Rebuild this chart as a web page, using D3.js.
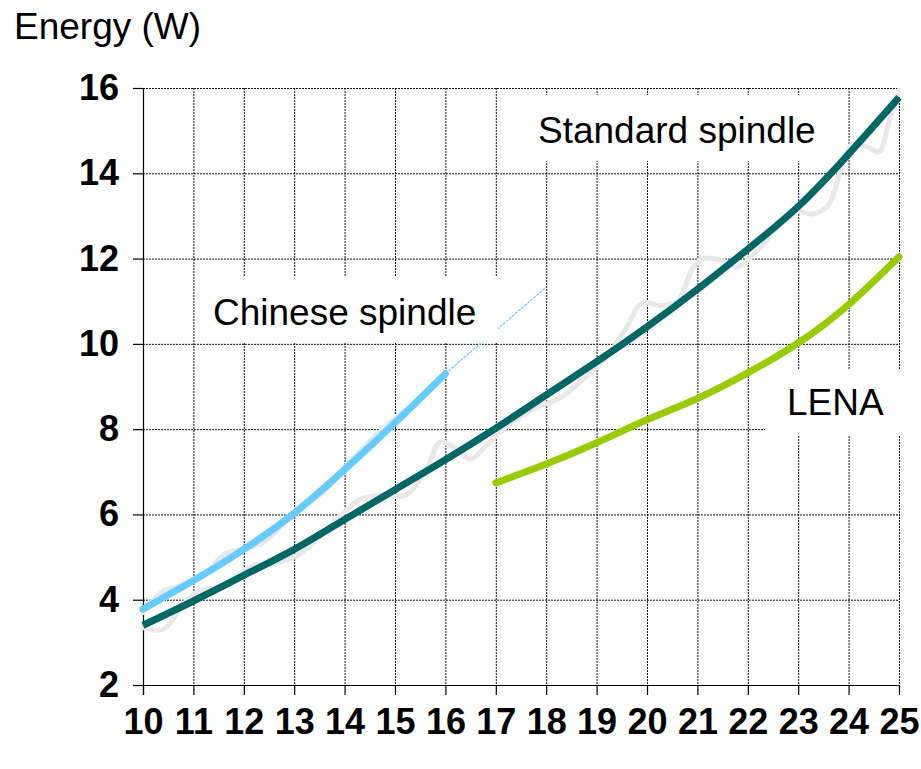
<!DOCTYPE html>
<html>
<head>
<meta charset="utf-8">
<script src="https://cdn.jsdelivr.net/npm/d3@7/dist/d3.min.js"></script>
<style>
  html, body { margin: 0; padding: 0; background: #fff; }
  svg { display: block; }
</style>
</head>
<body>
<svg id="chart" width="921" height="769"></svg>
<script>
// ---- Data ----
const xTicks = [10,11,12,13,14,15,16,17,18,19,20,21,22,23,24,25];
const yTicks = [2,4,6,8,10,12,14,16];

// Smoothed curves
const standardX = [10,11,12,13,14,15,16,17,18,19,20,21,22,23,24,25];
const standardY = [3.40,3.97,4.57,5.18,5.88,6.58,7.28,8.02,8.80,9.58,10.40,11.28,12.22,13.22,14.45,15.78];

const chineseX = [10,11,12,13,14,15,16];
const chineseY = [3.78,4.45,5.18,6.03,7.05,8.15,9.30];

const chineseExtX = [16,18];
const chineseExtY = [9.30,11.33];

const lenaX = [17,18,19,20,21,22,23,24,25];
const lenaY = [6.74,7.18,7.68,8.22,8.72,9.32,10.02,10.92,12.04];

// Raw measurements (faint grey)
const standardRawX = [10.0,10.4,10.8,11.1,11.5,11.9,12.2,12.6,13.0,13.4,13.9,14.3,14.7,15.2,15.6,15.9,16.2,16.5,16.8,17.2,17.8,18.3,18.8,19.2,19.6,19.9,20.3,20.6,20.9,21.1,21.5,21.8,22.2,22.6,22.9,23.3,23.6,23.9,24.1,24.4,24.6,24.8,25.0];
const standardRawY = [3.35,3.30,3.90,4.20,4.30,4.60,4.80,4.85,5.00,5.35,5.95,6.35,6.45,6.45,7.00,7.70,7.55,7.30,7.60,8.05,8.50,8.75,9.25,9.70,10.40,10.95,10.90,11.00,11.75,12.00,11.95,11.80,12.20,12.75,13.10,13.05,13.25,14.30,14.70,14.60,14.50,15.20,15.95];

const chineseRawX = [10.0,10.4,10.8,11.2,11.6,12.0,12.4,12.8,13.2,13.6,14.0,14.4,14.8,15.1,15.4];
const chineseRawY = [3.70,4.20,4.35,4.55,5.05,5.20,5.35,5.80,6.20,6.55,7.10,7.60,8.05,8.35,8.55];

const labels = ["Standard spindle","Chinese spindle","LENA"];
const yTitle = "Energy (W)";

// ---- Layout ----
const svg = d3.select("#chart");
const x = d3.scaleLinear().domain([10,25]).range([143,899]);
const y = d3.scaleLinear().domain([2,16]).range([685,88]);
const FONT = "'Liberation Sans', Arial, Helvetica, sans-serif";

// Grid
const grid = svg.append("g");
grid.selectAll("line.v").data(xTicks.slice(1)).join("line")
  .attr("x1", d => x(d) + 0.5).attr("x2", d => x(d) + 0.5)
  .attr("y1", y(16)).attr("y2", y(2))
  .attr("stroke", "#111").attr("stroke-width", 1)
  .attr("stroke-dasharray", "2,1");
grid.selectAll("line.h").data(yTicks.slice(1)).join("line")
  .attr("x1", x(10)).attr("x2", x(25))
  .attr("y1", d => y(d) + 0.5).attr("y2", d => y(d) + 0.5)
  .attr("stroke", "#111").attr("stroke-width", 1)
  .attr("stroke-dasharray", "2,1");

// Axes
const xAxis = d3.axisBottom(x).tickValues(xTicks).tickSize(10).tickSizeOuter(0).tickPadding(13);
const yAxis = d3.axisLeft(y).tickValues(yTicks).tickSize(10).tickSizeOuter(0).tickPadding(14);

const gx = svg.append("g").attr("transform", `translate(0,${y(2)})`).call(xAxis);
const gy = svg.append("g").attr("transform", `translate(${x(10)},0)`).call(yAxis);
[gx, gy].forEach(g => {
  g.select(".domain").attr("stroke", "#000").attr("stroke-width", 1.2);
  g.selectAll(".tick line").attr("stroke", "#000").attr("stroke-width", 1.2);
  g.selectAll(".tick text").attr("fill", "#000")
    .style("font-family", FONT).style("font-weight", "bold").style("font-size", "36px");
});
gx.select(".domain").attr("d", `M${x(10)-10},0.5H${x(25)}`);
gy.select(".domain").attr("d", `M0.5,${y(16)}V${y(2)+10}`);

// Line generators
const smooth = d3.line().x(d => x(d[0])).y(d => y(d[1])).curve(d3.curveNatural);
const straight = d3.line().x(d => x(d[0])).y(d => y(d[1]));
const wiggle = d3.line().x(d => x(d[0])).y(d => y(d[1])).curve(d3.curveCatmullRom.alpha(0.5));

const zip = (a, b) => a.map((v, i) => [v, b[i]]);

// Raw grey lines
svg.append("path").attr("d", wiggle(zip(chineseRawX, chineseRawY)))
  .attr("fill", "none").attr("stroke", "#E8E8E8").attr("stroke-width", 5).attr("stroke-linecap", "round");
svg.append("path").attr("d", wiggle(zip(standardRawX, standardRawY)))
  .attr("fill", "none").attr("stroke", "#E8E8E8").attr("stroke-width", 5).attr("stroke-linecap", "round");

// Chinese extension (thin dotted)
svg.append("path").attr("d", straight(zip(chineseExtX, chineseExtY)))
  .attr("fill", "none").attr("stroke", "#66CCFF").attr("stroke-width", 1.2)
  .attr("stroke-dasharray", "3,1");

// Label boxes (white)
const boxes = [
  {x0: 497, y0: 95, x1: 832, y1: 161},
  {x0: 200, y0: 276, x1: 498, y1: 342},
  {x0: 765, y0: 369, x1: 921, y1: 435}
];
svg.selectAll("rect.box").data(boxes).join("rect")
  .attr("x", d => d.x0).attr("y", d => d.y0)
  .attr("width", d => d.x1 - d.x0).attr("height", d => d.y1 - d.y0)
  .attr("fill", "#fff");

// Thick curves
svg.append("path").attr("d", smooth(zip(standardX, standardY)))
  .attr("fill", "none").attr("stroke", "#006666").attr("stroke-width", 7);
svg.append("path").attr("d", smooth(zip(chineseX, chineseY)))
  .attr("fill", "none").attr("stroke", "#66CCFF").attr("stroke-width", 7).attr("stroke-linecap", "round");
svg.append("path").attr("d", smooth(zip(lenaX, lenaY)))
  .attr("fill", "none").attr("stroke", "#99CC00").attr("stroke-width", 7).attr("stroke-linecap", "round");

// Texts
const txt = [
  {t: labels[0], x: 538, y: 143},
  {t: labels[1], x: 213, y: 325},
  {t: labels[2], x: 787, y: 415},
  {t: yTitle, x: 14, y: 39}
];
svg.selectAll("text.lbl").data(txt).join("text")
  .attr("x", d => d.x).attr("y", d => d.y)
  .attr("fill", "#000")
  .style("font-family", FONT).style("font-size", "37px")
  .text(d => d.t);
</script>
</body>
</html>
